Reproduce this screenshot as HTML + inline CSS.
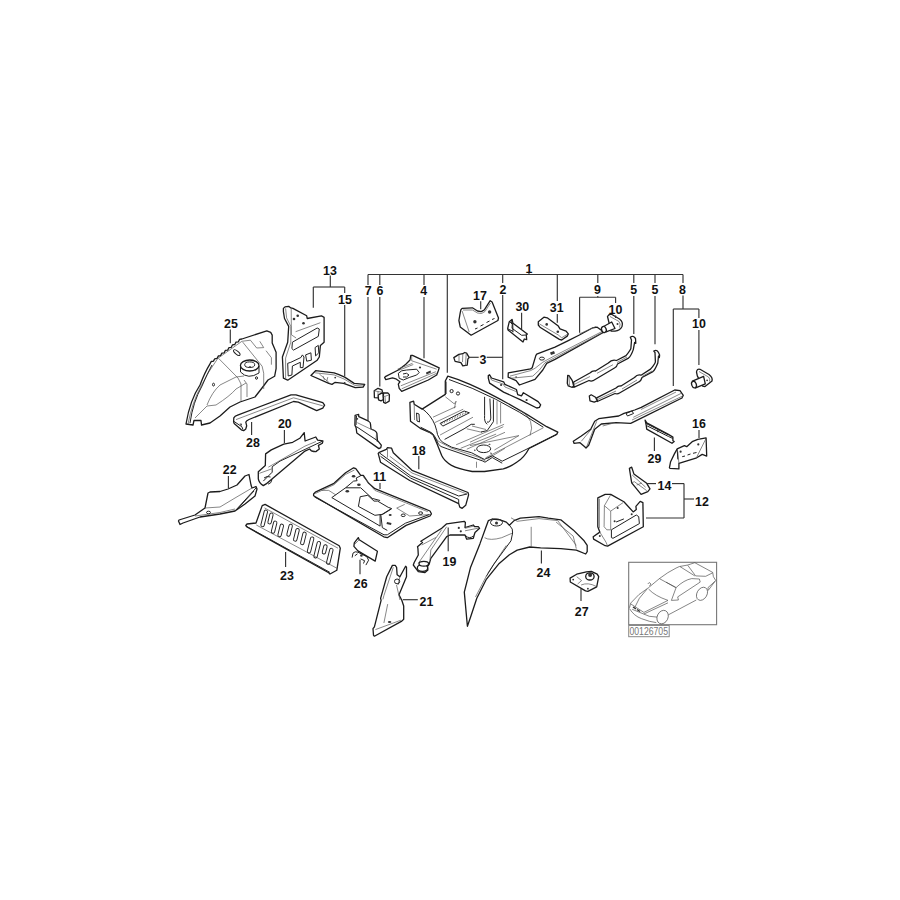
<!DOCTYPE html>
<html><head><meta charset="utf-8"><style>
html,body{margin:0;padding:0;background:#fff;}
svg{display:block;}
.t{font-family:"Liberation Sans",sans-serif;font-size:12.4px;font-weight:bold;fill:#111;text-anchor:middle;}
.l{stroke:#333;stroke-width:1.15;fill:none;}
.p{fill:#fff;stroke:#1c1c1c;stroke-width:1.3;stroke-linejoin:round;}
.i{fill:none;stroke:#555;stroke-width:0.7;}
.d{fill:none;stroke:#222;stroke-width:1;}
.h{fill:#333;stroke:none;}
</style></head><body>
<svg width="900" height="900" viewBox="0 0 900 900">

<!-- 25 -->
<path class="p" d="M186,424 Q190,400 200,385 Q205,372 210,363.9 L211.2,361.5 L213.5,361.1 L214.7,358.8 L217.1,358.4 L218.3,356.0 L220.6,355.6 L221.8,353.2 L224.2,352.8 L225.3,350.4 L227.7,350.1 L228.9,347.7 L231.3,347.3 L232.4,344.9 L234.8,344.5 L236.0,342.1 L238.4,341.8 L239.5,339.4 L241.9,339.0 L266.8,330.8 L270.7,332.4 L272.2,335.1 L272.2,342.9 L276.1,352.2 L276.1,368.6 L274.6,376.3 L268,380 L262,388 L255,397 L240,402 L230,407 L220,416 L210,423 L201.5,425 L201,420.5 L194,420.5 L193,425 Z"/>
<path class="i" d="M188,424 Q192,403 201,386 Q208,372 217.8,358.4 L241.9,341.3 L250.4,340.2 M242.7,342.1 L262.1,366.2 L263.7,373.2 L263.7,389 M250.4,340.2 L256.7,348 L263.7,347.6 L259.8,341.3 M266,350.7 L271.4,357.7 L271.4,364.7 M218.6,358.4 L238,378 L241,384 L241,401 M244,380 L247,384 L247,397 M195,418 L207,406 L216,405 Q230,396 236,389 L246,383 M207,405 Q212,392 220,385 L236,377 L244,376"/>
<path class="d" d="M190,423 Q193,402 202,386 Q207,374 212,365"/>
<path class="d" d="M240.5,366 L240.5,372 Q248,380 259,373 L259,366"/>
<ellipse class="p" cx="249.7" cy="365.5" rx="9.3" ry="5.5"/>
<ellipse class="d" cx="249.7" cy="364.7" rx="5" ry="2.8" stroke-width="1.5"/>
<circle class="h" cx="250" cy="367" r="0.9"/>
<ellipse class="d" cx="236.8" cy="352.6" rx="4" ry="1.6" transform="rotate(40 236.8 352.6)"/>
<ellipse class="d" cx="213.5" cy="384.6" rx="1" ry="1.4" stroke-width="1.3"/><ellipse class="d" cx="256.5" cy="378" rx="1" ry="1.3" stroke-width="1.3"/>
<!-- 13 panel -->
<path class="p" d="M283.4,308.4 L285,306.9 L288.7,306.3 L290.8,307.9 L292.9,308.4 L306.7,315.8 L307.2,318.5 L321.4,315.8 L324.1,317.4 L324.1,342.2 L320.4,345.4 L319.3,357 L317.2,360.2 L287.7,380.2 L283.4,378.1 L282.4,357 L287.7,342.2 L288.7,326.4 L284.5,318.5 L283.4,311.6 Z"/>
<path class="i" d="M285.6,308.4 L286.6,317.9 L290.8,326.4 L290.8,342.2 L285.6,358.1 L285.6,378.1 M291.2,308.5 L291.4,334.8 L296.1,338 M295.6,331.7 L320.4,322.7"/>
<path class="d" d="M292.4,342.2 L317.2,328 L319.3,329 L318.3,336.4 L293.5,350.1 L291.9,348.6 Z M287.7,363.3 L290.8,362.3 L300.9,357.5 L302.4,354.9 L304,357 L303,367.6 L300.3,367.6 L300.3,362.3 L292.4,366 L291.9,375 L288.2,376 Z M305.6,354.9 L310.9,352.8 L311.4,360.2 L306.7,361.2 Z M315.1,347.5 L318.3,345.4 L318.8,352.8 L315.6,355.9 Z"/>
<circle class="h" cx="294" cy="319" r="1.3"/><circle class="h" cx="297.7" cy="315.8" r="1.3"/><circle class="h" cx="303.5" cy="323.2" r="1.3"/>
<!-- 15 -->
<path class="p" d="M310.9,375.5 L315.6,370.7 L334.1,372.8 L338.3,374.4 L344.7,377.1 L354.2,383.4 L364.7,384.4 L363.1,387.1 L355.2,387.6 L343.6,383.4 L335.2,382.3 L332,384.4 L328.8,383.4 Z"/>
<path class="i" d="M315.1,372.8 L334.1,374.9 L344,379 L355,385.5 L363,386 M319.3,373.9 L329.9,383.4 M323,376 L324.5,380 M327.8,377.1 L326.8,381"/>
<circle class="h" cx="335.2" cy="377.6" r="0.9"/><circle class="h" cx="344.7" cy="382.9" r="0.9"/>
<!-- 28 -->
<path class="p" d="M233.8,417.8 Q235,415.8 237,415.3 L291,394.8 L295.9,394.8 L322.8,402.7 L324.6,405.2 L322.8,408.2 L316.7,410.7 L298.3,402.1 L293.5,401.5 L249,419.5 Q246,421 245.8,422.2 L246.7,425.8 L245.8,428.9 L243.6,430.7 L241.3,429.8 L234.2,423.6 L233.6,421.8 Z"/>
<path class="i" d="M236,419.6 L293.5,397.8 L322.8,405.8"/>
<path class="d" d="M233.8,421.3 L241.8,426.7 L243,429.5"/>
<path class="h" d="M239.5,423.5 L242,423.8 L241.5,426 Z"/>
<!-- 20 -->
<path class="p" d="M258.3,471.7 L265.3,465.6 L265.6,453.9 L271.3,449.9 L283.8,444.1 L292.7,442.3 L299.8,438.3 L304.2,432.6 L305.1,441 L315.8,437 L317.6,440.1 L321.1,440.6 L322.9,441 L322.4,443.2 L318.4,445.4 L319.3,449 L315.8,451.7 L311.3,450.8 L309.6,449 L305,451.1 L266.1,483.9 L263.3,485.6 Q259,483 258.3,478.9 Z"/>
<path class="d" d="M263.3,481.1 L272.2,472.2 L272.2,466.7 L280,461.1 L305,449.4 L322,441.4"/>
<path class="i" d="M268.3,467.2 L305,446.1 L316,441.5 M259.4,473.3 L271.7,468.9"/>
<path class="d" d="M311.5,450.8 Q315,453.5 319,449"/>
<path class="d" d="M264,478 Q267,475.5 270.5,477 M268,484.2 Q271.5,483.5 272,479.5"/>
<!-- 22 -->
<path class="p" d="M178.5,521 L179,520 L195,515 L205,508 L208,493 L210,492 L220,491.5 L228,489 L237,485 L245,476 L249,474.5 L251,485 L252,488 L256,486.5 L257,489 L255,496 L245,504 L235,511 L220,514 L200,517 L183,523 L180,524.5 Z"/>
<path class="i" d="M205,508 L220,507 L235,498 L252,488 M195,516 L220,512.5 L235,509"/>
<path class="d" d="M235,511 L256,488 M237,509.5 L254,491"/>
<ellipse class="d" cx="208.5" cy="512.5" rx="2" ry="1.3"/>
<!-- 23 -->
<path class="p" d="M262.2,505.6 L265.1,504.4 L339.2,545.8 L340.3,548.2 L336.8,570.3 L330,574 L328.7,572.7 L247,527 L245.8,525.5 L247,524 L256,523 Z"/>
<path class="i" d="M264.5,507.9 L338,548.2 M256.3,525 L337.4,568.5"/>
<path class="d" d="M246.4,526.3 L329.8,572.3"/>
<g fill="none" stroke="#222" stroke-width="0.95">
<rect x="262.5" y="509.9" width="3.4" height="17" rx="1.7" transform="rotate(14 264.2 518.4)"/>
<rect x="268.8" y="513.0" width="3.4" height="11" rx="1.7" transform="rotate(14 270.5 518.5)"/>
<rect x="272.4" y="520.9" width="3.4" height="12.5" rx="1.7" transform="rotate(14 274.1 527.2)"/>
<rect x="279.0" y="524.0" width="3.4" height="12.8" rx="1.7" transform="rotate(14 280.7 530.4)"/>
<rect x="287.9" y="524.1" width="3.4" height="12.3" rx="1.7" transform="rotate(14 289.6 530.2)"/>
<rect x="294.7" y="528.3" width="3.4" height="13" rx="1.7" transform="rotate(14 296.4 534.8)"/>
<rect x="301.7" y="532.0" width="3.4" height="12.8" rx="1.7" transform="rotate(14 303.4 538.4)"/>
<rect x="308.9" y="536.7" width="3.4" height="16.5" rx="1.7" transform="rotate(14 310.6 544.9)"/>
<rect x="315.5" y="541.2" width="3.4" height="17" rx="1.7" transform="rotate(14 317.2 549.7)"/>
<rect x="323.0" y="544.6" width="3.4" height="9.5" rx="1.7" transform="rotate(14 324.7 549.3)"/>
<rect x="328.1" y="548.1" width="3.4" height="16.4" rx="1.7" transform="rotate(14 329.8 556.3)"/>
</g>
<!-- 11 -->
<path class="p" d="M313.6,494 L315.3,492.2 L334,483.3 L345.6,472.7 L353.6,467.8 L355.8,468.7 L360.7,475.3 L363.3,475.3 L368.7,483.3 L374.9,488.7 L430,511 L431.4,513.8 L430,516 L406.1,525.4 L387.3,537.7 L383.7,536.8 L313.6,495.8 Z"/>
<path class="i" d="M315.3,493.5 L334,484.7 L345.6,474.4 L354.4,470 M363.3,476.7 L374.9,490.4 L427.8,511.7 M321.6,490.4 L328.7,490.4 L335.8,494.9 M396.7,508.1 L404.7,504.4 M396.7,508.1 L409.7,516 L430,514.5"/>
<path class="d" d="M314.5,497 L384,534.8 L387.3,534.8 L405.4,523.2 L429.2,514.6 M331.8,497.6 L345.6,487.8 L360.7,487.8 L372.2,498.4 L380.1,500.5 M331.8,497.6 L380.1,526.1 L380.1,514.6 M380.8,514.6 L382.3,527.6 L387.3,530.4 M382.3,514.6 L391.7,508.8 M345.6,487.8 L353.6,481.1 L357.1,480.7 L356.2,478 L360.7,475.8"/>
<path class="d" d="M358.4,506.4 L360.2,496.7 L367.8,495.3 L374,501.1 L377.6,501.1 L388.2,507.3 L391.5,508.5 L382,514.4 L374.9,515.3 Z" stroke-width="1.5"/>
<g class="h"><ellipse cx="353.6" cy="476.2" rx="1.8" ry="1.2"/><ellipse cx="358.9" cy="484.7" rx="1.8" ry="1.2"/><ellipse cx="347.3" cy="491.3" rx="1.8" ry="1.2"/><ellipse cx="390.2" cy="514.9" rx="1.5" ry="1"/><path d="M387,522 L391.5,523 L391,525 L386.5,524 Z"/></g>
<ellipse class="d" cx="403.2" cy="515.3" rx="2" ry="1.3"/><ellipse class="d" cx="420.6" cy="513.1" rx="2" ry="1.3"/>
<!-- 18 -->
<path class="p" d="M386.3,449.3 L387.5,447.6 L391.6,448.2 L393.3,452.8 L412,470.3 L468,492.5 L468.6,494.8 L465.7,505.3 L462.2,508.3 L459.8,507.1 L458.7,503.6 L409.7,480.5 L380.5,462.2 L378.2,453.4 L379.3,452.3 Z"/>
<path class="i" d="M387.5,448.5 L387.5,457.5 M389.8,456.3 L412,473 L466.8,494"/>
<path class="d" d="M379.3,452.8 L410.8,476 L458.7,496 L467,494 M380.5,456.3 L410.8,478.2 L458.7,499.5 L458.7,503.6"/>
<!-- 7 -->
<path class="p" d="M355.1,415.3 L358.6,414.4 L358.8,416.6 L368.6,421.2 Q370.8,422.5 370.5,424.1 L371,429 L374.5,430.5 Q376.8,432 376.9,433.4 L377.4,440.3 L381.3,445.2 L380.8,447.6 L378.9,448.6 L356.8,433 L356.1,427.6 L354.9,425.1 Z"/>
<path class="i" d="M357.3,422.7 L370.5,429 L374.5,430.5 M376.5,434 L376,440"/>
<path class="d" d="M356.4,426.6 L376.9,440.3 L377.4,441.8 M356.5,416 L356,425"/>
<circle class="h" cx="357.3" cy="418.8" r="0.9"/>
<!-- 6 -->
<path class="p" d="M378.3,394.5 L383,392.8 L383.5,399.5 L381,400.8 L378.5,399.8 Z"/>
<path class="p" d="M374.2,390.8 L378,388.3 L382,389.8 L382.6,392.3 L378.3,395 L378.3,397.8 L374.4,397.6 Z"/>
<path class="i" d="M378,391.5 L378,397.5 M374.2,390.8 L378,391.5 L382.6,392.3"/>
<path class="p" d="M383.6,393 L387.8,392.8 L389.4,394.7 L389.2,401.1 L385.6,403.3 L383.6,402.4 L383.3,396.3 Z"/>
<path class="i" d="M383.3,396.3 L385,396.3 L389.2,394.8 M385,396.3 L385.6,403.3"/>
<!-- 4 -->
<path class="p" d="M384.6,377.5 L385.8,376.3 L398.3,370 L405.8,364.2 L410,360 L410.8,355.4 L412.5,355.4 L439.2,367.9 L438.3,370.8 L436.7,375 L428.3,380 L401.7,391.3 L399.2,388.3 L398.3,384.2 L400,381.7 L395.8,378.8 L392.5,377.9 L385.8,379.6 Z"/>
<path class="i" d="M411.7,355.8 L411.7,360.8 L436.7,369.2 M401.7,388.8 L436.7,373.3 M400.8,385.8 L435.8,371.7 M397.5,369.2 L412.5,363.3 M398.8,370.3 L413.3,364.5"/>
<path class="d" d="M398.3,373.3 L401.7,370.8 L406.7,370 L416.7,369.2 L419.2,372.5 L416.7,375 L409.2,377.5 L403.3,380 L399.2,378.3 Z M403,374 Q407,372 409,375 Q407,378 403,377"/>
<circle class="h" cx="420" cy="367.5" r="1.1"/><path class="h" d="M426,372.5 L430.5,370.5 L431,372.5 L426.5,374.5 Z"/>
<!-- floor -->
<path class="p" d="M409.9,402.4 L413.6,401.2 L414.2,404.2 L422.1,409.1 L445.3,394.4 L445.3,381 L447.8,376.1 Q458,379 470,384.4 Q505,400 546.7,426.7 L557.8,432.2 L556.7,434.4 L529,448.5 Q524,458 516.7,462.2 Q510,467 503.3,468.9 L484.5,471.5 L472.2,471.5 Q458,469 451.5,465.4 Q444,461 441.7,455.6 L436.8,443.3 L433.1,434.8 L429.4,432.3 L420.9,428.7 L410.5,421.3 Z"/>
<path class="i" d="M485.6,457.8 L543.3,427.8 M414.2,404.2 L414.5,420 M446.5,381.5 L446.5,394 M445.4,396.8 L454.3,403.9 L456.1,401.2 L454.3,408.3 M433,417.2 L456.1,406.6 M434.8,422.6 L463.2,409.2 M440.1,435 L473,417.2 M456.1,444.8 L504.1,424.3 M460.6,448.3 L496.1,434.1 M466.8,449.2 L505,432.3 M497,401.2 L497,424.3 M500.6,403 L500.6,423.4 M520,410 Q536,420 530,435.6 M476.5,461.7 L476.5,467.8 M470,442.2 L503.3,426.7 M494.4,450 L518.9,435.6 M518.9,435.6 L470,445.6 M466.8,428.8 L481.9,432.3 M472,426 L486,429.5 M505,448.3 L487.2,459 M425,429.7 L432.1,434.1 L438.3,441.2 L451.7,448.3 L478.3,457.2 L485.4,460.8 M441.5,424.5 L442.5,422.0 M444.1,423.4 L445.1,420.9 M446.7,422.2 L447.7,419.7 M449.3,421.1 L450.3,418.6 M451.9,419.9 L452.9,417.4 M454.5,418.8 L455.5,416.2 M457.1,417.6 L458.1,415.1 M459.7,416.4 L460.7,413.9 M462.3,415.3 L463.3,412.8 M464.9,414.1 L465.9,411.6"/>
<path class="d" d="M449,379.5 Q495,395 543.3,427.2 M421.7,408.3 Q431,415 435,425 Q437,431 437.5,434.5 Q439.5,440.5 443,442.5 L451.7,447.2 L471.7,452.8 L484.4,459.4 L492.2,455.7 L502.2,461.2 L556.7,434.4 M420.6,427.2 L431.7,432.8 Q435,436 436.5,440 Q438,445 441,446.5 L447.2,448.8 L482.8,461 L485,462.2 L492.2,457.5 L502.2,463.2 M484.6,396.8 L484.6,415.4 Q484,422 487.2,424.3 M489.9,398.6 L490.8,418.1 Q490,423 487,422 M493.4,399.4 L493.4,421.7 L487.2,430.6 L481,432 M444.6,439.4 L464.1,428.8 L471.2,424.3 L474.8,424.3 M440.1,423.4 L442.8,426.1 L469.4,412.8 L464.1,411 Z M416.5,413 L419,414 L419.5,422 L417,421 Z"/>
<circle class="d" cx="451.6" cy="391.1" r="1.6"/><circle class="d" cx="458" cy="393.5" r="1.6"/>
<ellipse class="d" cx="483.7" cy="448.8" rx="7" ry="3.8"/>
<path class="h" d="M488,444.5 l2,-1 l0.5,1.5 Z M490,452.5 l2,0.5 l-1,1.5 Z M476,450 l-1.5,1.2 l-0.5,-1.8 Z"/>
<!-- 17 -->
<path class="p" d="M460.9,309.7 L462.1,308.4 L472.4,307.8 L477.5,311 L481.3,311.6 L484.5,309.7 L490.2,300.7 L492.1,302 L498.5,318 L497.9,320.5 L471.1,335.2 L467.9,332.7 L460.2,326.9 L458.9,320.5 L460.2,312.9 Z"/>
<path class="i" d="M462.1,311 L469.2,332 M463,310 L472.5,310 L477.5,313 L481.5,313.5 L485,311.5 L490.5,303"/>
<path class="d" stroke-width="1.7" d="M475,329 L477.5,328 M480.5,326 L483.5,324.5 M486.5,322.5 L489.5,321 M492,319.5 L494.5,318.5"/>
<circle class="h" cx="474.9" cy="321.8" r="1.7"/><circle class="h" cx="489.6" cy="312" r="1.7"/>
<!-- 30 -->
<path class="p" d="M509.3,321.7 L512,319.5 L513,323.3 L521,329.3 L527.3,334 L526.3,335 L526.7,339.7 L524.3,339 L523,342 L508,330 L507.7,328.3 Z"/>
<path class="d" d="M509.7,322 L512.3,323.3 L512,328.3 L521.7,335.3 L526.3,335 M512.7,323 L513,332.3 M508,329 L513,331.3 M512,319.5 L511.5,324"/>
<!-- 31 -->
<path class="p" d="M538.3,321.7 L543.9,317.2 L547.2,317.8 L558.3,326.1 L560,328.9 L566.1,331.1 L568.3,333.9 L567.2,336.1 L561.7,340 L559.4,339.4 L540,327.2 L538.3,325 Z"/>
<path class="i" d="M539.4,323.9 L558.3,335 L561.7,337.8 L567.2,334.4"/>
<circle class="h" cx="546.7" cy="324.4" r="1.3"/><circle class="h" cx="557.8" cy="331.7" r="1.3"/>
<!-- 3 -->
<path class="p" d="M453.8,357.6 L458.9,354.4 L462.8,353.7 L464.7,352.5 L466.6,353.1 L469.2,357.6 L467.9,358.9 L467.2,365.2 L462.8,365.9 L460.9,362.7 L455.1,361.4 Z"/>
<path class="i" d="M462.8,353.7 L462.5,362 M466.2,353.5 L465.5,365.5 M459,355 L459,361.5"/>
<!-- 2 -->
<path class="p" d="M488.3,375.5 L489.6,374.8 L491.5,378 L503.6,381.8 L504.9,384.4 L516.4,389.5 L517.7,394.6 L521.5,395.9 L523.4,392.7 L538.1,401.6 L540.7,404.8 L539.4,407.4 L536.8,408 L520.2,399.7 L503.6,392.1 L489.6,383.1 L488.3,378 Z"/>
<path class="i" d="M490,377 L491.5,380 L503,384 L505,387 L516,391.5"/>
<circle class="h" cx="501.1" cy="385" r="1.1"/><circle class="h" cx="526.6" cy="400" r="1.1"/>
<!-- 9 -->
<path class="p" d="M508.3,372.8 L530.6,368.9 L532.2,367.8 L535.8,355.6 L536.7,354.2 L555,347.2 L568.3,340.6 L579.4,335 L592.8,327.8 L597.2,327.2 L601.7,330.6 L602.8,332.8 L555,359.4 L546.7,363.3 L542.8,370 L535,379.4 L519.4,385 L516.1,380.6 L508.1,377.2 Z"/>
<path class="i" d="M510,376.1 L530.6,370.6 L535,368.3 L542.8,362.2 L555,355.6 L601.7,331.7 M510.6,378.3 L532.8,376.1 L539.4,370 L545,362.8 L555,357.5 L602.5,332.5 M579.4,333.9 L596,326.5"/>
<ellipse class="d" cx="541.9" cy="358.6" rx="2.5" ry="1.5"/>
<path class="h" d="M550,352.5 L554,351 L555,353.5 L551,355 Z"/>
<circle class="h" cx="516.1" cy="377" r="0.8"/>
<!-- 10a -->
<path class="p" d="M607.5,316.5 Q609,313.5 612,314.5 L619.5,319 Q623.5,322 622,326.5 Q620,330.5 615,331.2 L611,331 Z"/>
<path class="p" d="M602.2,327.2 L611.7,322 L615,328.5 L606.1,331.9 Z"/>
<ellipse class="p" cx="603.9" cy="329.5" rx="2.3" ry="3.1" transform="rotate(-20 603.9 329.5)"/>
<circle class="h" cx="617.5" cy="324" r="1"/>
<path class="i" d="M610,316.5 L619,321.5 Q621,324 619.5,327.5"/>
<!-- 5a -->
<path class="p" d="M573.7,382 L590.3,372.7 Q592.5,370.3 595.5,371 L608.3,363 Q612,359 616.5,360.5 L626,355.7 Q630.5,350 630.9,348.3 L631.5,340 L630.3,337.3 Q633,335 635.5,338.5 L635.8,343.4 L634.6,342.5 L633.3,349.6 Q631,356 628.5,358.1 L617.5,364 Q617,367 614.5,368 L593,380.7 Q591,381.5 589,380.5 L573.7,387.3 Z"/>
<path class="p" d="M567.7,375.3 L569,375.7 L572.3,380.7 L573.7,386 L572.3,387.3 L568.3,386 L567.3,383.3 Z"/>
<path class="i" d="M573.7,384.7 L590,376.5 M597,373.3 L613,364.7 M617,362.5 L627,357 M569,376 L569.5,386"/>
<!-- 5b -->
<path class="p" d="M596.7,397.8 L616,388 Q618.5,385.5 621,386 L634.5,377.5 Q637.5,374 641,375.2 L650.5,369.1 Q655,364 655.4,361.8 L655,352.5 L653.8,351 Q657.5,348.5 659.6,355 L659.4,357.5 L658.5,356 L657.8,363 Q655,370 652.9,371.6 L642,377.5 Q641,381 639,381.8 L619.5,393 Q617.5,394.5 615,393.5 L597.3,401.5 Z"/>
<path class="p" d="M589.3,396 L591.2,394.8 L595.5,397.2 L597.3,400.9 L594.2,402.1 L590,400.9 Z"/>
<path class="i" d="M597,399.8 L616,391 M622,389 L637,380 M642,376.5 L652,371"/>
<!-- 8 -->
<path class="p" d="M674.7,390 L680,390.7 L683.3,395.3 L682,398 L630.7,423.3 L616,422.7 L601.3,424 L594.7,429.3 L588.7,445.3 L586,448 L584.7,446.7 L580,442.7 L574,443.3 L573.3,441.3 L581.3,436 L590.7,429.3 L594.7,421.3 L598.7,418.7 L618.7,416 L624,413.3 L634.7,410 L641.3,407.3 Z"/>
<path class="i" d="M596.7,421.3 L586.7,446.7 M591.3,429.3 L581.3,441.3 M602.7,426 L614.7,422.7 M632,420 L682.7,396 M633.3,417.3 L681.3,393.3 M641,409.5 L676,392"/>
<path class="d" d="M626,413.5 L632,411 L633.5,413.5 L627.5,416 Z"/>
<!-- 10b -->
<path class="p" d="M696.5,372 Q697,368.5 700,369.3 L709,374.5 Q713,377.5 712,381 L705,386.6 L702.7,386.1 L697.3,375.9 Z"/>
<path class="p" d="M692.4,381.2 L703.6,376.3 L705.3,383.9 L695.6,387.9 Z"/>
<ellipse class="p" cx="694" cy="384.6" rx="2.3" ry="3.4" transform="rotate(-20 694 384.6)"/>
<circle class="h" cx="707.1" cy="380.3" r="0.9"/>
<path class="i" d="M699,371.5 L708.5,377 Q710.5,379 709.5,381.5"/>
<!-- 29 -->
<path class="p" d="M645.1,420.2 L646.7,422.9 L668.4,434.4 L672.9,437.1 L672.9,440.7 L674.2,441.6 L672,443.3 L646.7,429.1 L646.2,425.1 Z"/>
<path class="d" d="M646.7,423.8 L668.4,434.9 M647.1,425.9 L668.5,436.5 L672.9,438.5" stroke-width="0.9"/>
<path class="h" d="M656.5,430 L659.5,430.8 L657.8,432.5 Z"/>
<!-- 16 -->
<path class="p" d="M669.4,467.8 L670.6,461.7 L674.4,453.9 L677.2,448.9 L684.4,445.6 L686.7,446.7 L692.2,441.7 L697.8,439.4 L706.1,437.8 L706.7,456.1 L702.2,454.4 L696.7,457.8 L678.9,463.3 L678.9,468.9 L670,468.3 Z"/>
<path class="i" d="M706.1,438.3 L696.7,457.2 M677.8,451.7 L678.9,463.3"/>
<path class="d" d="M677.2,449.4 L677.8,459.4 M682.2,456.7 L685,456 M687.5,455 L690.5,454 M693,453.3 L696.5,452.5" stroke-width="1.3"/>
<circle class="h" cx="680.6" cy="451.7" r="1.1"/><circle class="h" cx="698.3" cy="444.4" r="1.1"/>
<!-- 14 -->
<path class="p" d="M629.4,468.3 L631.7,467.2 L633.9,473.9 L646.7,483.3 L650,488.9 L647.8,491.7 L641.1,494.4 L631.7,482.8 L630.6,476.1 Z"/>
<path class="i" d="M632.2,475 L645.6,487.2 M631.7,482.8 L634.4,481.7 L646.7,490.6 M636.7,485 L642,483"/>
<!-- 12 -->
<path class="p" d="M597.8,497.9 L605.2,494.4 L610.7,494.4 L623.9,501.8 L633.2,511.9 L636.3,509.6 L635.9,506.4 L640.2,501.4 L642.9,502.6 L643.3,526.7 L607.6,546.1 L605.2,545.7 L593.6,539.1 L593.2,536.8 L599.8,532.1 L597.8,526.7 Z"/>
<path class="i" d="M610.7,494.8 L604.4,505.7 L610.7,511.1 L623.1,502.6 M604.4,505.7 L604.1,526.7 L606.8,529.8 L610.7,529.8 M610.7,511.1 L610.7,529.8 M599.4,498.7 L599.4,528.2 M599.8,532.1 L606,542.2 L607.6,546"/>
<path class="d" d="M611.4,529.8 L636.3,515 L638.7,516.6 L639.4,523.6 L613,538.3 L611.4,537.6 Z M616.1,522 L623.9,518.9"/>
<g class="h"><circle cx="617.7" cy="508" r="1"/><circle cx="631.7" cy="514.2" r="1"/><circle cx="614.6" cy="521.2" r="1"/><circle cx="599.8" cy="536" r="1"/></g>
<!-- 19 -->
<path class="p" d="M413.3,565 L414.2,562.5 L418.3,555 L417.9,548.3 L417.5,546.7 L422.5,542.5 L420.8,541.3 L441.7,528.3 L446.7,523.8 L464.2,521.3 L465.4,522.5 L465,527.5 L473.3,525 L474.6,526.7 L478.3,526.7 L479.6,528.3 L475,532.5 L474.2,535 L473.3,538.3 L466.7,539.2 L465,535 L450,535 L446.7,536.7 L430.8,558.3 L429.2,564.2 L427.5,566.7 L427.9,570 L425,572.5 L418.3,571.7 L415.8,568.3 Z"/>
<path class="i" d="M446.7,526.7 L430.8,550 L430,560 M441.7,529.6 L418.3,563.3 M421.7,545 L435.8,537.5 M465,528.3 L474,526 M465,530.8 L479,528"/>
<ellipse class="p" cx="422.5" cy="568" rx="5.2" ry="3.3"/>
<ellipse class="p" cx="423.8" cy="563.8" rx="4.8" ry="2.4"/>
<path class="d" d="M465.5,535.5 Q469,539.5 473.5,536"/>
<circle class="h" cx="458.8" cy="527.9" r="1.1"/><circle class="h" cx="460.8" cy="531.3" r="1.1"/>
<!-- 24 -->
<path class="p" d="M467.4,626.3 L464.3,592.1 L470.6,567.2 L479.9,543.9 L486.1,526.8 L488.4,520.6 L492.3,519 L500.1,519.8 L506.3,522.1 L509.4,525.2 L514.1,520.6 L520.3,518.2 L539,516.7 L548.3,518.2 L560.8,519.8 L573.2,529.9 L584.1,540.8 L587.2,545.4 L587.2,551.7 L585.7,554 L576.3,550.1 L560.8,548.6 L540.6,547.8 L529.7,547 L517.2,550.1 L509.4,554.8 L498.6,564.1 L486.1,579.7 L476.8,598.3 L470.6,617 Z"/>
<path class="i" d="M484.6,537.7 Q490,541 501.7,537.7 L512.6,533 M506.3,545.4 L487.7,573.4 M486.1,576.6 L475.5,597 M511,517.8 L517.2,521.3 L539,518.6 L557.7,520.6 L576.3,545.4 M556.1,522.1 L573.2,536.1 L576.3,548.6 M531.2,526.8 L531.2,547"/>
<path class="d" d="M509.4,525.2 Q513.5,529 512.6,533 L511,540.8 L493.9,564.1 L486.1,576.6"/>
<ellipse class="d" cx="496.5" cy="522.5" rx="6" ry="3.5"/>
<circle class="h" cx="496.5" cy="523" r="1.5"/>
<!-- 21 -->
<path class="p" d="M373.5,635.3 L373,628.7 L374.4,626.8 L381.1,600.3 L380.6,598.4 L386.7,576.7 L392.4,565.4 L395.2,565.4 L396.6,567.3 L397.1,574.8 L399.9,576.7 L405.6,566.3 L406.5,567.3 L406.5,576.7 L399,594.7 L401.8,600.3 L403.7,606 L403.7,619.2 L401.8,621.1 L374.4,636.2 Z"/>
<path class="i" d="M393.3,567.3 L383.9,595.6 L382.9,599.4 M375.4,629.6 L400.9,620.2 M387.7,604.1 L383.9,623 M396.5,585 L400,600 M399.9,576.7 L398,585"/>
<ellipse class="d" cx="397.1" cy="581.4" rx="2.6" ry="2.4"/>
<ellipse class="h" cx="389.6" cy="622" rx="1.8" ry="1.1"/>
<!-- 26 -->
<path class="p" d="M358.3,537.6 L359.2,539.8 L377.4,551.3 L375.2,561.1 L357.9,550.9 L353.9,546.4 L354.3,542.9 Z"/>
<path class="i" d="M354.8,544.2 L359.2,539.8"/>
<path class="d" stroke-width="1.2" d="M352.1,557.6 L353,553.1 L355.2,551.8 L357.9,552.2 L366.8,556.7 L368.6,560.2 L365.9,565.1 M354.8,555.8 L357.5,553.8 M360.6,558.9 L364.6,560.7 L363.5,563.5"/>
<circle class="h" cx="361.4" cy="555.5" r="1.3"/>
<!-- 27 -->
<path class="p" d="M570.1,578.1 L576.7,574.2 L586.4,571.8 L591.3,571.3 L597.2,574.2 L598.7,576.7 L596.7,586.9 L587.9,591.3 L585.5,590.9 L570.3,582 Z"/>
<path class="i" d="M576.7,576.7 L581.6,580.6 L577.6,584 M581.1,585 Q588,582 596.2,586.4"/>
<ellipse class="p" cx="589.9" cy="576.4" rx="4.2" ry="3.6"/>
<circle class="h" cx="590.1" cy="575" r="2"/>
<circle class="h" cx="573.2" cy="579.6" r="0.9"/><circle class="h" cx="587.9" cy="588.7" r="0.9"/>
<!-- inset -->
<rect x="628.7" y="562.3" width="87.9" height="62.4" fill="none" stroke="#777" stroke-width="1.1"/>
<rect x="628.7" y="625.5" width="40.5" height="11.2" fill="none" stroke="#888" stroke-width="1"/>
<text x="629.5" y="635" style="font-family:'Liberation Sans',sans-serif;font-size:10.3px;fill:#777;" textLength="38.5" lengthAdjust="spacingAndGlyphs">00126705</text>
<g fill="none" stroke="#444" stroke-width="0.65" stroke-linejoin="round">
<path d="M648.6,587.6 L659.4,578.6 Q668,572 676,568.1 L679.2,566.6 L687.8,565 L694.8,562.7 L712.7,572.4 L713.4,576.7 L715.8,580.6 L708,587.6 L708,589.9"/>
<path d="M648.6,589.1 Q655,596 668,600.4 M659.4,578.6 L675.8,587.6 M680,566.6 L694.8,575.9 M687.8,565.4 L695.6,575.9 L705.7,576.3 L712.7,572.8 M715,581.3 L708,590.7"/>
<path d="M648.6,587.6 Q638,594 630.7,603.1 L629.5,607.8 M647,589.1 Q638,598 634.6,607.8 M630.7,603.9 L643.9,612.4 L668,600.4 M643.9,614 L668,602.8"/>
<path d="M629.5,608.6 Q634,616 641.6,618.7 Q650,622 656.3,622.6 M632.2,609.3 L649.3,616.3 L657.1,617.1"/>
<path d="M647.8,584 Q649,581 651,584 L649.5,586"/>
<ellipse cx="662.6" cy="617.1" rx="5.4" ry="7" transform="rotate(25 662.6 617.1)"/>
<ellipse cx="702" cy="593.8" rx="5" ry="7" transform="rotate(30 702 593.8)"/>
<path d="M668.4,614.8 L696.3,600 M671.4,600.4 L676.1,587.6 Q684,580 691.7,578.6 L699.4,579 L700.2,582.1 L677.7,596.9 L678.4,600 Z M666,582.1 L676.1,587.6"/>
</g>
<path d="M633,607 L636,609 M637,609.5 L640,611.5" stroke="#333" stroke-width="1.4" fill="none"/>

<line class="l" x1="368" y1="274.5" x2="683" y2="274.5"/>
<line class="l" x1="529" y1="272" x2="529" y2="274.5"/>
<line class="l" x1="368" y1="274.5" x2="368" y2="285"/>
<line class="l" x1="368" y1="297" x2="368" y2="420.6"/>
<line class="l" x1="379.8" y1="274.5" x2="379.8" y2="285"/>
<line class="l" x1="379.8" y1="297" x2="379.8" y2="386.6"/>
<line class="l" x1="424" y1="274.5" x2="424" y2="285"/>
<line class="l" x1="424" y1="297" x2="424" y2="358.3"/>
<line class="l" x1="447.3" y1="274.5" x2="447.3" y2="372.7"/>
<line class="l" x1="502.7" y1="274.5" x2="502.7" y2="283"/>
<line class="l" x1="502.7" y1="295" x2="502.7" y2="379.3"/>
<line class="l" x1="557.3" y1="274.5" x2="557.3" y2="301"/>
<line class="l" x1="557.3" y1="314" x2="557.3" y2="322.8"/>
<line class="l" x1="597.8" y1="274.5" x2="597.8" y2="283"/>
<line class="l" x1="597.8" y1="296" x2="597.8" y2="297.2"/>
<line class="l" x1="633.8" y1="274.5" x2="633.8" y2="283"/>
<line class="l" x1="633.8" y1="296" x2="633.8" y2="334"/>
<line class="l" x1="655" y1="274.5" x2="655" y2="283"/>
<line class="l" x1="655" y1="296" x2="655" y2="344.2"/>
<line class="l" x1="683" y1="274.5" x2="683" y2="283"/>
<line class="l" x1="683" y1="295.5" x2="683" y2="309"/>
<line class="l" x1="579.6" y1="297.2" x2="615.6" y2="297.2"/>
<line class="l" x1="579.6" y1="297.2" x2="579.6" y2="332.8"/>
<line class="l" x1="615.6" y1="297.2" x2="615.6" y2="303"/>
<line class="l" x1="615.6" y1="315.5" x2="615.6" y2="318"/>
<line class="l" x1="673.3" y1="309" x2="698.9" y2="309"/>
<line class="l" x1="673.3" y1="309" x2="673.3" y2="386"/>
<line class="l" x1="698.9" y1="309" x2="698.9" y2="318"/>
<line class="l" x1="698.9" y1="330" x2="698.9" y2="365"/>
<line class="l" x1="313.3" y1="287" x2="344.7" y2="287"/>
<line class="l" x1="313.3" y1="287" x2="313.3" y2="307.7"/>
<line class="l" x1="330.3" y1="275.5" x2="330.3" y2="287"/>
<line class="l" x1="344.7" y1="287" x2="344.7" y2="293"/>
<line class="l" x1="344.7" y1="305" x2="344.7" y2="376.2"/>
<line class="l" x1="230.3" y1="329.5" x2="230.3" y2="343.3"/>
<line class="l" x1="480.7" y1="301.3" x2="480.7" y2="309.3"/>
<line class="l" x1="521.6" y1="312.7" x2="521.6" y2="329.3"/>
<line class="l" x1="468.7" y1="357.3" x2="478.7" y2="357.3"/>
<line class="l" x1="486.7" y1="357.3" x2="502.7" y2="357.3"/>
<line class="l" x1="699" y1="430" x2="699" y2="438"/>
<line class="l" x1="654.4" y1="437.5" x2="654.4" y2="451"/>
<line class="l" x1="647" y1="483.6" x2="656" y2="483.6"/>
<line class="l" x1="672" y1="483.6" x2="684" y2="483.6"/>
<line class="l" x1="684" y1="483.6" x2="684" y2="518"/>
<line class="l" x1="646" y1="518" x2="684" y2="518"/>
<line class="l" x1="684" y1="499" x2="694" y2="499"/>
<line class="l" x1="251.6" y1="422" x2="251.6" y2="435"/>
<line class="l" x1="284.4" y1="430" x2="284.4" y2="443"/>
<line class="l" x1="228.4" y1="476" x2="228.4" y2="488"/>
<line class="l" x1="285.6" y1="552" x2="285.6" y2="567"/>
<line class="l" x1="418.8" y1="456" x2="418.8" y2="469.3"/>
<line class="l" x1="380" y1="483" x2="380" y2="488.9"/>
<line class="l" x1="448.2" y1="527.5" x2="448.2" y2="551.3"/>
<line class="l" x1="360" y1="559.8" x2="360" y2="574.2"/>
<line class="l" x1="402.8" y1="599.7" x2="417.8" y2="599.7"/>
<line class="l" x1="541.4" y1="550.6" x2="541.4" y2="563.6"/>
<line class="l" x1="581" y1="589" x2="581" y2="601"/>
<text class="t" x="529" y="273">1</text>
<text class="t" x="503" y="293.5">2</text>
<text class="t" x="368.3" y="295">7</text>
<text class="t" x="380" y="295">6</text>
<text class="t" x="423.8" y="295">4</text>
<text class="t" x="330" y="274.7">13</text>
<text class="t" x="344.9" y="303.7">15</text>
<text class="t" x="231" y="328">25</text>
<text class="t" x="480" y="300">17</text>
<text class="t" x="522.3" y="311.3">30</text>
<text class="t" x="556.7" y="312">31</text>
<text class="t" x="597.5" y="294">9</text>
<text class="t" x="615.5" y="314">10</text>
<text class="t" x="633.8" y="294">5</text>
<text class="t" x="655" y="294">5</text>
<text class="t" x="682.5" y="293.7">8</text>
<text class="t" x="699" y="328.3">10</text>
<text class="t" x="483" y="364">3</text>
<text class="t" x="699" y="428">16</text>
<text class="t" x="654.5" y="463">29</text>
<text class="t" x="664.5" y="490.4">14</text>
<text class="t" x="702" y="506">12</text>
<text class="t" x="253" y="447">28</text>
<text class="t" x="284.8" y="428.4">20</text>
<text class="t" x="229.7" y="474">22</text>
<text class="t" x="287" y="579.6">23</text>
<text class="t" x="418.7" y="454.6">18</text>
<text class="t" x="379.5" y="481.4">11</text>
<text class="t" x="449.4" y="565.5">19</text>
<text class="t" x="360.7" y="587.6">26</text>
<text class="t" x="426.5" y="606.3">21</text>
<text class="t" x="543.4" y="576.7">24</text>
<text class="t" x="581.7" y="615.6">27</text>
</svg></body></html>
